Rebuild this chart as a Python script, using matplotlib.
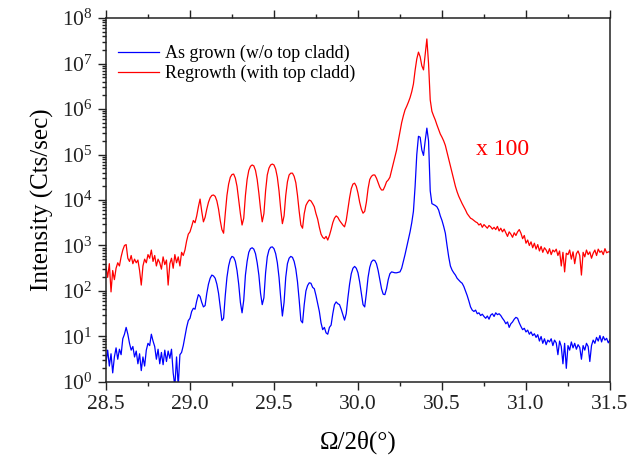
import numpy as np
import matplotlib
matplotlib.use("Agg")
import matplotlib.pyplot as plt
from matplotlib.ticker import LogLocator, MultipleLocator

plt.rcParams['font.family'] = ['Liberation Serif', 'DejaVu Serif']
plt.rcParams['mathtext.fontset'] = 'custom'
plt.rcParams['mathtext.rm'] = 'Liberation Serif'
plt.rcParams['mathtext.it'] = 'Liberation Serif:italic'

# scan: 28.50 -> 31.50 deg, 0.01 deg step (one row = 0.1 deg)
X_START, X_STOP = 28.5, 31.5

# log10(intensity), as grown (w/o top cladd)
as_grown_log = [
    0.42, 0.70, 0.35, 0.62, 0.20, 0.55, 0.75, 0.50, 0.72, 0.60,  # 28.5
    0.95, 1.05, 1.20, 1.05, 0.85, 0.70, 0.78, 0.55, 0.68, 0.40,  # 28.6
    0.62, 0.25, 0.55, 0.35, 0.70, 0.85, 0.80, 1.05, 0.90, 0.78,  # 28.7
    0.50, 0.72, 0.40, 0.65, 0.38, 0.70, 0.45, 0.68, 0.52, 0.72,  # 28.8
    0.20, -0.10, 0.55, -0.10, 0.60, 0.65, 0.80, 1.00, 1.20, 1.35,  # 28.9
    1.40, 1.55, 1.62, 1.60, 1.78, 1.92, 1.88, 1.75, 1.65, 1.68,  # 29.0
    1.95, 2.15, 2.28, 2.35, 2.33, 2.28, 2.15, 1.95, 1.65, 1.35,  # 29.1
    1.40, 1.90, 2.30, 2.55, 2.70, 2.76, 2.74, 2.65, 2.45, 2.15,  # 29.2
    1.75, 1.52, 1.80, 2.35, 2.65, 2.85, 2.93, 2.95, 2.92, 2.82,  # 29.3
    2.62, 2.35, 1.95, 1.70, 1.85, 2.40, 2.75, 2.90, 2.96, 2.97,  # 29.4
    2.93, 2.82, 2.62, 2.30, 1.85, 1.45, 1.75, 2.30, 2.60, 2.72,  # 29.5
    2.76, 2.74, 2.65, 2.48, 2.20, 1.80, 1.35, 1.30, 1.70, 2.00,  # 29.6
    2.12, 2.18, 2.17, 2.08, 2.05, 1.90, 1.72, 1.55, 1.30, 1.15,  # 29.7
    1.20, 1.08, 1.05, 1.20, 1.25, 1.50, 1.70, 1.76, 1.72, 1.70,  # 29.8
    1.60, 1.48, 1.36, 1.50, 1.85, 2.15, 2.38, 2.50, 2.54, 2.50,  # 29.9
    2.40, 2.20, 1.95, 1.70, 1.65, 1.95, 2.30, 2.52, 2.64, 2.68,  # 30.0
    2.67, 2.60, 2.45, 2.25, 2.05, 1.93, 1.92, 2.05, 2.25, 2.38,  # 30.1
    2.42, 2.41, 2.40, 2.40, 2.41, 2.42, 2.50, 2.65, 2.80, 2.97,  # 30.2
    3.15, 3.30, 3.50, 3.75, 4.30, 5.00, 5.40, 5.38, 5.10, 4.98,  # 30.3
    5.30, 5.58, 5.30, 4.20, 3.92, 3.90, 3.88, 3.85, 3.78, 3.65,  # 30.4
    3.55, 3.42, 3.27, 3.00, 2.75, 2.55, 2.46, 2.40, 2.35, 2.28,  # 30.5
    2.24, 2.20, 2.17, 2.10, 2.00, 1.90, 1.78, 1.65, 1.58, 1.55,  # 30.6
    1.58, 1.50, 1.52, 1.46, 1.49, 1.44, 1.40, 1.45, 1.38, 1.47,  # 30.7
    1.50, 1.44, 1.52, 1.48, 1.50, 1.46, 1.40, 1.35, 1.28, 1.32,  # 30.8
    1.20, 1.28, 1.32, 1.38, 1.42, 1.40, 1.30, 1.22, 1.15, 1.18,  # 30.9
    1.10, 1.14, 1.05, 1.10, 1.02, 1.06, 0.98, 1.04, 0.90, 1.00,  # 31.0
    0.85, 0.95, 0.82, 0.92, 0.88, 0.95, 0.80, 0.92, 0.86, 0.60,  # 31.1
    0.90, 0.78, 0.40, 0.85, 0.30, 0.80, 0.70, 0.88, 0.75, 0.85,  # 31.2
    0.72, 0.82, 0.76, 0.50, 0.80, 0.70, 0.85, 0.78, 0.45, 0.80,  # 31.3
    0.92, 0.85, 0.98, 0.90, 1.02, 0.88, 1.00, 0.92, 0.96, 0.86,  # 31.4
    0.93,
]

# log10(intensity), regrowth (with top cladd), already x100
regrowth_log = [
    2.53, 2.30, 2.60, 1.98, 2.45, 2.25, 2.50, 2.62, 2.55, 2.75,  # 28.5
    2.90, 3.00, 3.02, 2.72, 2.65, 2.78, 2.60, 2.70, 2.62, 2.68,  # 28.6
    2.45, 2.13, 2.55, 2.70, 2.62, 2.80, 2.72, 2.90, 2.65, 2.78,  # 28.7
    2.55, 2.70, 2.62, 2.48, 2.75, 2.58, 2.68, 2.13, 2.60, 2.72,  # 28.8
    2.50, 2.80, 2.62, 2.75, 2.55, 2.85, 2.78, 2.90, 3.10, 3.25,  # 28.9
    3.30, 3.42, 3.55, 3.50, 3.65, 3.85, 4.02, 3.75, 3.52, 3.62,  # 29.0
    3.80, 3.95, 4.05, 4.10, 4.11, 4.08, 3.98, 3.80, 3.55, 3.35,  # 29.1
    3.27, 3.70, 4.10, 4.35, 4.50, 4.56, 4.57, 4.48, 4.30, 4.00,  # 29.2
    3.70, 3.45, 3.60, 4.10, 4.45, 4.65, 4.74, 4.77, 4.75, 4.65,  # 29.3
    4.45, 4.15, 3.80, 3.52, 3.70, 4.20, 4.55, 4.70, 4.77, 4.79,  # 29.4
    4.77, 4.68, 4.50, 4.20, 3.80, 3.48, 3.65, 4.10, 4.40, 4.55,  # 29.5
    4.59, 4.59, 4.52, 4.38, 4.10, 3.75, 3.45, 3.38, 3.70, 3.88,  # 29.6
    3.95, 4.00, 3.98, 3.92, 3.85, 3.70, 3.58, 3.40, 3.25, 3.18,  # 29.7
    3.15, 3.20, 3.12, 3.22, 3.35, 3.50, 3.60, 3.65, 3.62, 3.55,  # 29.8
    3.50, 3.45, 3.41, 3.55, 3.80, 4.05, 4.25, 4.35, 4.37, 4.30,  # 29.9
    4.15, 3.95, 3.80, 3.71, 3.75, 3.95, 4.25, 4.45, 4.52, 4.55,  # 30.0
    4.55, 4.48, 4.38, 4.28, 4.22, 4.22, 4.30, 4.40, 4.44, 4.50,  # 30.1
    4.65, 4.80, 4.95, 5.10, 5.30, 5.50, 5.70, 5.85, 5.98, 6.06,  # 30.2
    6.15, 6.25, 6.38, 6.55, 6.85, 7.10, 7.25, 7.15, 6.95, 6.86,  # 30.3
    7.20, 7.54, 7.00, 6.20, 5.95, 5.85, 5.76, 5.65, 5.55, 5.45,  # 30.4
    5.38, 5.30, 5.20, 5.05, 4.90, 4.75, 4.59, 4.45, 4.30, 4.18,  # 30.5
    4.08, 4.00, 3.92, 3.85, 3.78, 3.70, 3.65, 3.60, 3.58, 3.55,  # 30.6
    3.52, 3.50, 3.45, 3.48, 3.40, 3.46, 3.42, 3.38, 3.44, 3.41,  # 30.7
    3.36, 3.40, 3.35, 3.42, 3.32, 3.38, 3.30, 3.36, 3.28, 3.20,  # 30.8
    3.30, 3.25, 3.18, 3.28, 3.22, 3.30, 3.35, 3.27, 3.15, 3.22,  # 30.9
    3.05, 3.12, 3.00, 3.08, 2.95, 3.05, 2.92, 3.02, 2.88, 2.98,  # 31.0
    2.85, 2.95, 2.90, 2.82, 2.93, 2.80, 2.90, 2.86, 2.92, 2.78,  # 31.1
    2.88, 2.55, 2.85, 2.42, 2.83, 2.80, 2.90, 2.70, 2.86, 2.60,  # 31.2
    2.82, 2.88, 2.78, 2.35, 2.85, 2.75, 2.90, 2.80, 2.86, 2.72,  # 31.3
    2.83, 2.90, 2.78, 2.92, 2.85, 2.88, 2.80, 2.93, 2.84, 2.86,  # 31.4
    2.86,
]

x = np.linspace(X_START, X_STOP, len(as_grown_log))
blue = 10.0 ** np.array(as_grown_log)
red = 10.0 ** np.array(regrowth_log)

fig = plt.figure(figsize=(6.4, 4.62), dpi=100)
ax = fig.add_axes([0.1656, 0.1732, 0.7875, 0.7878])

ax.plot(x, blue, color='#0000ff', lw=0.9, label='As grown (w/o top cladd)')
ax.plot(x, red, color='#ff0000', lw=0.9, label='Regrowth (with top cladd)')

ax.set_yscale('log')
ax.set_xlim(28.5, 31.5)
ax.set_ylim(1, 1e8)
ax.xaxis.set_major_locator(MultipleLocator(0.5))
ax.xaxis.set_minor_locator(MultipleLocator(0.25))
ax.yaxis.set_major_locator(LogLocator(base=10, numticks=12))
ax.yaxis.set_minor_locator(LogLocator(base=10, subs=np.arange(2, 10), numticks=12))
ax.xaxis.set_major_formatter(plt.FuncFormatter(lambda v, p: f"{v:.1f}"))

ax.tick_params(which='both', direction='out', top=True, right=False,
               labelsize=15.5, width=1.0, colors='#222222')
ax.tick_params(which='major', length=6)
ax.tick_params(which='minor', length=3)
for s in ax.spines.values():
    s.set_linewidth(1.1)
    s.set_color('#222222')

ax.set_xlabel('Ω/2θ(°)', fontsize=18, labelpad=12)
ax.set_ylabel('Intensity (Cts/sec)', fontsize=18, labelpad=6)

ax.text(30.86, 10 ** 5.1, 'x 100', color='#ff0000', fontsize=17,
        ha='center', va='center')

leg = ax.legend(loc='upper left', bbox_to_anchor=(0.0, 0.958), frameon=False,
                fontsize=13, handlelength=2.3, handletextpad=0.3,
                labelspacing=0.15, borderaxespad=0.25)

fig.savefig('out.png', dpi=100)
